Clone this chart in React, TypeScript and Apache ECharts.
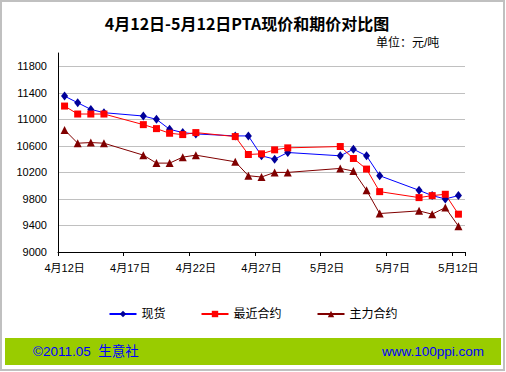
import React, { useEffect, useRef } from "react";
import * as echarts from "echarts";

// all calendar days on the axis
const allDays: string[] = [
  "4月12日", "4月13日", "4月14日", "4月15日", "4月16日", "4月17日", "4月18日", "4月19日",
  "4月20日", "4月21日", "4月22日", "4月23日", "4月24日", "4月25日", "4月26日", "4月27日",
  "4月28日", "4月29日", "4月30日", "5月1日", "5月2日", "5月3日", "5月4日", "5月5日",
  "5月6日", "5月7日", "5月8日", "5月9日", "5月10日", "5月11日", "5月12日",
];

// trading days with data
const tradeDays: string[] = [
  "4月12日", "4月13日", "4月14日", "4月15日", "4月18日", "4月19日", "4月20日", "4月21日",
  "4月22日", "4月25日", "4月26日", "4月27日", "4月28日", "4月29日", "5月3日", "5月4日",
  "5月5日", "5月6日", "5月9日", "5月10日", "5月11日", "5月12日",
];

const spot: number[] = [
  11350, 11250, 11150, 11100, 11050, 11000, 10850, 10800, 10780, 10750, 10750,
  10450, 10400, 10500, 10450, 10550, 10450, 10150, 9930, 9850, 9800, 9850,
];
const nearest: number[] = [
  11200, 11080, 11080, 11080, 10920, 10860, 10790, 10770, 10800, 10740, 10470,
  10480, 10540, 10570, 10590, 10410, 10250, 9910, 9820, 9850, 9870, 9570,
];
const mainContract: number[] = [
  10840, 10640, 10650, 10640, 10460, 10340, 10340, 10430, 10460, 10360, 10150,
  10130, 10200, 10200, 10260, 10220, 9930, 9580, 9620, 9570, 9670, 9390,
];

const seriesNames = ["现货", "最近合约", "主力合约"];

function align(values: number[]): (number | null)[] {
  return allDays.map((d) => {
    const i = tradeDays.indexOf(d);
    return i >= 0 ? values[i] : null;
  });
}

const latin = "'Liberation Sans', 'Noto Sans CJK SC', sans-serif";

export default function App() {
  const ref = useRef<HTMLDivElement>(null);
  useEffect(() => {
    document.body.style.margin = "0";
    const chart = echarts.init(ref.current!, null, { renderer: "svg" });
    chart.setOption({
      animation: false,
      backgroundColor: "#ffffff",
      graphic: [
        {
          type: "rect",
          shape: { x: 1, y: 1, width: 503, height: 369 },
          style: { fill: "none", stroke: "#c0c0c0", lineWidth: 2 },
          z: -10,
        },
        {
          type: "rect",
          shape: { x: 5, y: 338, width: 496, height: 27 },
          style: { fill: "#99cc00" },
          z: -5,
        },
        {
          type: "text",
          x: 247,
          y: 23,
          style: {
            text: "4月12日-5月12日PTA现价和期价对比图",
            fill: "#000",
            font: "bold 16px 'Noto Sans CJK SC', sans-serif",
            textAlign: "center",
            textVerticalAlign: "middle",
          },
        },
        {
          type: "text",
          x: 376,
          y: 43,
          style: {
            text: "单位：元/吨",
            fill: "#000",
            font: "12px " + latin,
            textAlign: "left",
            textVerticalAlign: "middle",
          },
        },
        {
          type: "text",
          x: 33,
          y: 351,
          style: {
            text: "©2011.05  生意社",
            fill: "#0000ff",
            font: "13.5px " + latin,
            textAlign: "left",
            textVerticalAlign: "middle",
          },
        },
        {
          type: "text",
          x: 484,
          y: 351,
          style: {
            text: "www.100ppi.com",
            fill: "#0000ff",
            font: "13.5px " + latin,
            textAlign: "right",
            textVerticalAlign: "middle",
          },
        },
      ],
      legend: {
        top: 303,
        left: "center",
        itemWidth: 27,
        itemHeight: 8,
        itemGap: 35,
        textStyle: { fontSize: 12, color: "#000", fontFamily: latin },
        data: seriesNames,
      },
      grid: { left: 58, top: 53, width: 407, height: 199, containLabel: false },
      xAxis: {
        type: "category",
        data: allDays,
        boundaryGap: true,
        axisLine: { lineStyle: { color: "#000", width: 1 } },
        axisTick: { show: true, interval: 4, length: 4, lineStyle: { color: "#000" } },
        axisLabel: {
          interval: 4,
          margin: 10,
          fontSize: 11,
          color: "#000",
          fontFamily: latin,
        },
        splitLine: { show: false },
      },
      yAxis: {
        type: "value",
        min: 9000,
        max: 12000,
        interval: 400,
        axisLine: { show: true, lineStyle: { color: "#000", width: 1 } },
        axisTick: { show: false },
        axisLabel: {
          margin: 11,
          fontSize: 11,
          color: "#000",
          fontFamily: latin,
          showMaxLabel: false,
          formatter: (v: number) => String(v),
        },
        splitLine: {
          show: true,
          showMaxLine: false,
          lineStyle: { color: "#c0c0c0", width: 1 },
        },
      },
      series: [
        {
          name: seriesNames[0],
          type: "line",
          data: align(spot),
          connectNulls: true,
          showAllSymbol: true,
          symbol: "diamond",
          symbolSize: [7, 9],
          itemStyle: { color: "#000099" },
          lineStyle: { color: "#0000ff", width: 1 },
        },
        {
          name: seriesNames[1],
          type: "line",
          data: align(nearest),
          connectNulls: true,
          showAllSymbol: true,
          symbol: "rect",
          symbolSize: 7,
          itemStyle: { color: "#ff0000" },
          lineStyle: { color: "#ff0000", width: 1 },
        },
        {
          name: seriesNames[2],
          type: "line",
          data: align(mainContract),
          connectNulls: true,
          showAllSymbol: true,
          symbol: "triangle",
          symbolSize: 8,
          itemStyle: { color: "#800000" },
          lineStyle: { color: "#800000", width: 1 },
        },
      ],
    });
    return () => chart.dispose();
  }, []);
  return <div ref={ref} style={{ width: 506, height: 372 }} />;
}
